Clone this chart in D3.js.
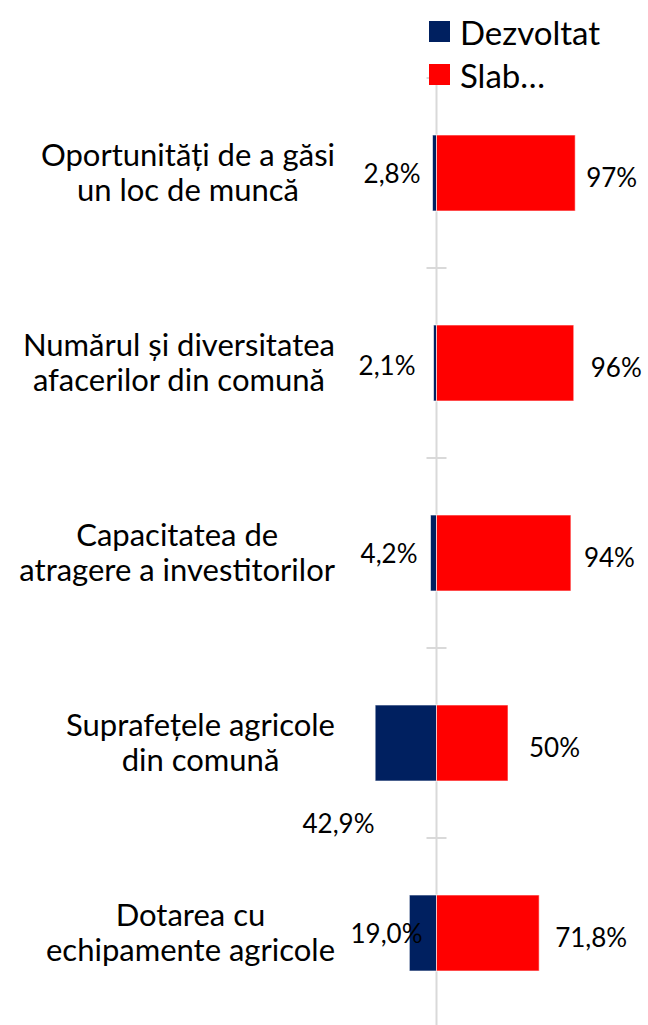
<!DOCTYPE html>
<html>
<head>
<meta charset="utf-8">
<script src="https://cdn.jsdelivr.net/npm/d3@7"></script>
<style>
  html, body { margin: 0; padding: 0; background: #fff; }
  svg { display: block; }
  text { font-family: Lato, "Open Sans", sans-serif; fill: #000; }
</style>
</head>
<body>
<svg id="chart" width="648" height="1025"></svg>
<script>
// ---- data ----
const categories = [
  ["Oportunități de a găsi", "un loc de muncă"],
  ["Numărul și diversitatea", "afacerilor din comună"],
  ["Capacitatea de", "atragere a investitorilor"],
  ["Suprafețele agricole", "din comună"],
  ["Dotarea cu", "echipamente agricole"]
];
const seriesNames = ["Dezvoltat", "Slab…"];
const dezvoltat = [2.8, 2.1, 4.2, 42.9, 19.0];
const slab = [97, 96, 94, 50, 71.8];
const dezvoltatLabels = ["2,8%", "2,1%", "4,2%", "42,9%", "19,0%"];
const slabLabels = ["97%", "96%", "94%", "50%", "71,8%"];

// ---- layout ----
const W = 648, H = 1025;
const zeroX = 436.5, pxPerPct = 1.43;
const colors = ["#002060", "#FF0000"];
const svg = d3.select("#chart");

const x = d3.scaleLinear()
  .domain([-100, 100])
  .range([zeroX - 100 * pxPerPct, zeroX + 100 * pxPerPct]);

const idx = d3.range(categories.length);
const y = d3.scaleBand()
  .domain(idx)
  .range([78, 1028])
  .paddingInner(0.6)
  .paddingOuter(0.3);

// axis line and ticks
svg.append("line")
  .attr("x1", zeroX).attr("x2", zeroX)
  .attr("y1", 78).attr("y2", H)
  .attr("stroke", "#d9d9d9").attr("stroke-width", 2);

const step = y.step();
const tickYs = d3.range(categories.length + 1).map(i => 78 + i * step);
svg.selectAll("line.tick").data(tickYs).enter().append("line")
  .attr("class", "tick")
  .attr("x1", zeroX - 10).attr("x2", zeroX + 10)
  .attr("y1", d => d).attr("y2", d => d)
  .attr("stroke", "#d9d9d9").attr("stroke-width", 2);

// bars
svg.selectAll("rect.dez").data(idx).enter().append("rect")
  .attr("class", "dez")
  .attr("x", i => x(-dezvoltat[i]))
  .attr("y", i => y(i))
  .attr("width", i => x(0) - x(-dezvoltat[i]))
  .attr("height", y.bandwidth())
  .attr("fill", colors[0])
  .attr("stroke", "rgba(255,255,255,0.6)").attr("stroke-width", 1);

svg.selectAll("rect.slab").data(idx).enter().append("rect")
  .attr("class", "slab")
  .attr("x", x(0))
  .attr("y", i => y(i))
  .attr("width", i => x(slab[i]) - x(0))
  .attr("height", y.bandwidth())
  .attr("fill", colors[1])
  .attr("stroke", "rgba(255,255,255,0.6)").attr("stroke-width", 1);

// value labels
const valFont = 26;
// per-label nudges (layout only) to mimic the original's placement
const dezNudge = [[0, 0], [-5, 2], [-3, 0], [-46, 80], [2, 0]];
const slabGap = [11, 17, 13, 21, 16];
svg.selectAll("text.dezl").data(idx).enter().append("text")
  .attr("class", "dezl")
  .attr("x", i => zeroX - 16 + dezNudge[i][0])
  .attr("y", i => y(i) + y.bandwidth() / 2 + dezNudge[i][1])
  .attr("text-anchor", "end")
  .attr("dominant-baseline", "central")
  .attr("font-size", valFont)
  .text(i => dezvoltatLabels[i]);

svg.selectAll("text.slabl").data(idx).enter().append("text")
  .attr("class", "slabl")
  .attr("x", i => x(slab[i]) + slabGap[i])
  .attr("y", i => y(i) + y.bandwidth() / 2 + 4)
  .attr("text-anchor", "start")
  .attr("dominant-baseline", "central")
  .attr("font-size", valFont)
  .text(i => slabLabels[i]);

// category labels (multi-line, block right aligned, lines centered)
const catFont = 31, lineH = 35, blockRight = 335;
idx.forEach(i => {
  const g = svg.append("g");
  const cy = y(i) + y.bandwidth() / 2;
  const lines = categories[i];
  const ts = lines.map((l, k) => g.append("text")
    .attr("font-size", catFont)
    .attr("text-anchor", "middle")
    .attr("y", cy - 7 + k * lineH)
    .text(l));
  const maxW = d3.max(ts, t => t.node().getComputedTextLength());
  ts.forEach(t => t.attr("x", blockRight - maxW / 2));
});

// legend
const legend = svg.append("g");
seriesNames.forEach((n, k) => {
  legend.append("rect")
    .attr("x", 429).attr("y", 21 + k * 43)
    .attr("width", 21).attr("height", 21)
    .attr("fill", colors[k]);
  legend.append("text")
    .attr("x", 460).attr("y", 31.5 + k * 43)
    .attr("dominant-baseline", "central")
    .attr("font-size", 33)
    .text(n);
});
</script>
</body>
</html>
